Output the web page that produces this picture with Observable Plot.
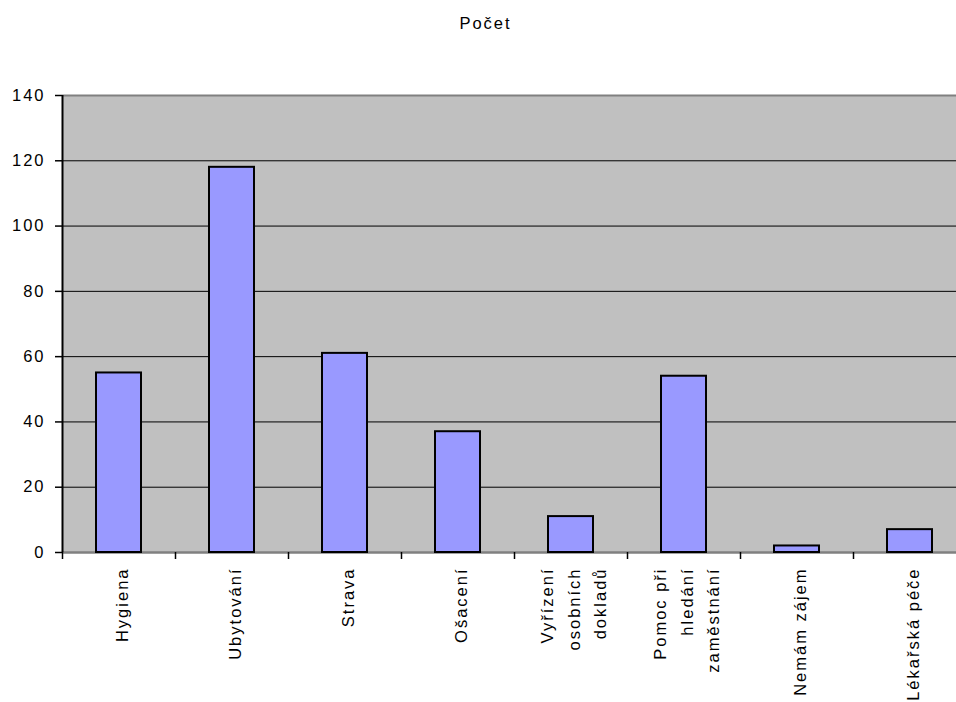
<!DOCTYPE html>
<html><head><meta charset="utf-8">
<script src="https://cdn.jsdelivr.net/npm/d3@7"></script>
<script src="https://cdn.jsdelivr.net/npm/@observablehq/plot@0.6"></script>
<style>html,body{margin:0;padding:0;background:#fff;overflow:hidden}</style>
</head><body><div id="chart"></div><script>
const title = "Počet";
const categories = ["Hygiena","Ubytování","Strava","Ošacení","Vyřízení osobních dokladů","Pomoc při hledání zaměstnání","Nemám zájem","Lékařská péče"];
const labels = ["Hygiena","Ubytování","Strava","Ošacení","Vyřízení\nosobních\ndokladů","Pomoc při\nhledání\nzaměstnání","Nemám zájem","Lékařská péče"];
const values = [55,118,61,37,11,54,2,7];
const yTicks = [0,20,40,60,80,100,120,140];
const gridTicks = [20,40,60,80,100,120];

const data = categories.map((c,i)=>({c, v: values[i], label: labels[i]}));
const W = 956, ML = 62, MR = -10;
const step = (W - ML - MR) / categories.length;
const FS = 16.5;

const chart = Plot.plot({
  width: W, height: 702,
  marginTop: 95, marginBottom: 150, marginLeft: ML, marginRight: MR,
  style: {fontFamily: "'Liberation Sans', Arial, sans-serif", fontSize: "16.5px", letterSpacing: "2px", background: "#fff", color: "#000"},
  x: {domain: categories, padding: 0, axis: null},
  y: {domain: [0,140], axis: null},
  marks: [
    Plot.frame({fill: "#c0c0c0", stroke: null}),
    Plot.ruleY(gridTicks, {stroke: "#000", strokeWidth: 1}),
    Plot.ruleY([140], {stroke: "#808080", strokeWidth: 2}),
    Plot.ruleY([0], {stroke: "#808080", strokeWidth: 2.5}),
    Plot.ruleX(categories.slice(0,1), {x: d=>d, dx: -step/2, stroke: "#000", strokeWidth: 2}),
    Plot.ruleX(categories, {x: d=>d, dx: -step/2, y1: 0, y2: 0, insetTop: 0, insetBottom: -7, stroke: "#000", strokeWidth: 1.5}),
    Plot.axisY({ticks: yTicks, tickSize: 7, tickPadding: 10, label: null, stroke: "#000", strokeWidth: 1.5, fontSize: FS, tickFormat: d=>String(d)}),
    Plot.barY(data, {x: "c", y: "v", fill: "#9999ff", stroke: "#000", strokeWidth: 2, insetLeft: 34, insetRight: 34}),
    Plot.text(data, {x: "c", text: "label", frameAnchor: "bottom", dy: 15, rotate: -90, textAnchor: "end", lineAnchor: "middle", lineHeight: 1.62, fontSize: FS, fill: "#000"}),
    Plot.text([title], {frameAnchor: "top", dx: -29, dy: -78, text: d=>d, fontSize: FS, fill: "#000"})
  ]
});
document.getElementById("chart").appendChild(chart);
</script></body></html>
